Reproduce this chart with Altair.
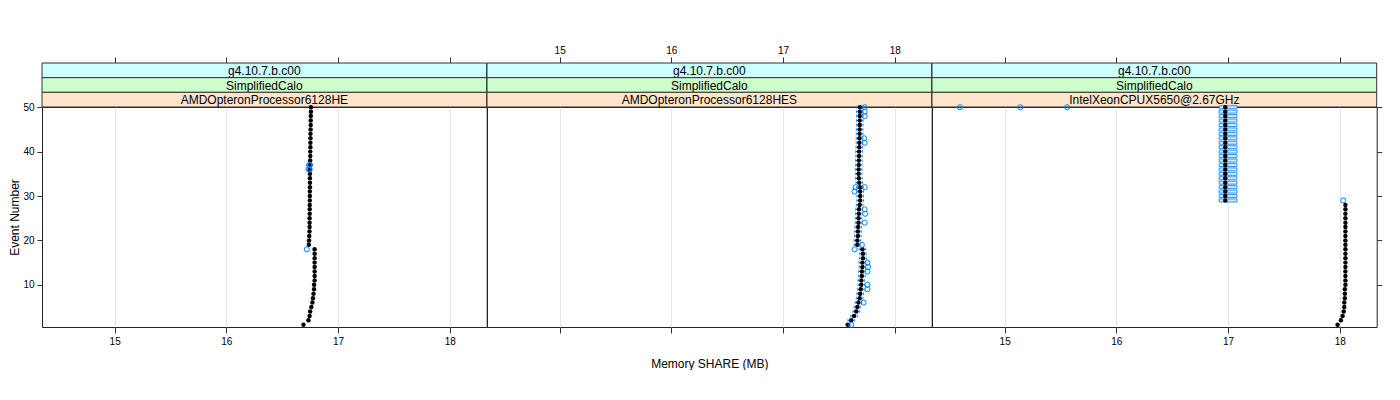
import altair as alt
import pandas as pd

# ---------------- data ----------------
RELEASE = "g4.10.7.b.c00"
APP = "SimplifiedCalo"
CPUS = ["AMDOpteronProcessor6128HE", "AMDOpteronProcessor6128HES", "IntelXeonCPUX5650@2.67GHz"]
EVENTS = list(range(1, 51))
X_TICKS = [15, 16, 17, 18]
Y_TICKS = [10, 20, 30, 40, 50]

# medians (black dots), events 1..50
p1_med = [16.69, 16.735, 16.745, 16.75, 16.76, 16.77, 16.775, 16.78, 16.785, 16.785,
          16.79, 16.79, 16.79, 16.79, 16.79, 16.79, 16.79, 16.79, 16.738, 16.74,
          16.742, 16.744, 16.745, 16.745, 16.745, 16.746, 16.746, 16.746, 16.747, 16.747,
          16.747, 16.748, 16.748, 16.748, 16.748, 16.749, 16.75, 16.75, 16.751, 16.751,
          16.752, 16.752, 16.753, 16.753, 16.754, 16.755, 16.755, 16.756, 16.757, 16.757]
p2_med = [17.58, 17.61, 17.635, 17.655, 17.665, 17.675, 17.685, 17.69, 17.695, 17.70,
          17.70, 17.705, 17.705, 17.71, 17.71, 17.715, 17.715, 17.71, 17.665, 17.665,
          17.67, 17.67, 17.672, 17.675, 17.675, 17.678, 17.68, 17.685, 17.69, 17.69,
          17.69, 17.688, 17.682, 17.678, 17.676, 17.676, 17.677, 17.678, 17.68, 17.68,
          17.682, 17.683, 17.684, 17.685, 17.685, 17.686, 17.686, 17.687, 17.687, 17.688]
p3_med = [17.98, 18.01, 18.025, 18.035, 18.04, 18.04, 18.045, 18.045, 18.045, 18.05,
          18.05, 18.05, 18.05, 18.05, 18.05, 18.05, 18.05, 18.05, 18.05, 18.05,
          18.05, 18.05, 18.05, 18.05, 18.05, 18.05, 18.05, 18.05, 16.975, 16.975,
          16.975, 16.975, 16.975, 16.975, 16.975, 16.975, 16.975, 16.975, 16.975, 16.975,
          16.975, 16.975, 16.975, 16.975, 16.975, 16.975, 16.975, 16.975, 16.975, 16.975]

# whiskers, panel 2 (events 1..50)
p2_lo = [17.56, 17.58, 17.605, 17.625, 17.635, 17.645, 17.655, 17.66, 17.665, 17.67,
         17.67, 17.675, 17.675, 17.68, 17.68, 17.685, 17.685, 17.68, 17.635, 17.635,
         17.64, 17.64, 17.642, 17.645, 17.645, 17.648, 17.65, 17.655, 17.66, 17.66,
         17.66, 17.658, 17.652, 17.648, 17.646, 17.646, 17.647, 17.648, 17.65, 17.65,
         17.652, 17.653, 17.654, 17.655, 17.655, 17.656, 17.656, 17.657, 17.657, 17.658]
p2_hi = [17.60, 17.64, 17.665, 17.685, 17.695, 17.705, 17.715, 17.72, 17.725, 17.73,
         17.73, 17.735, 17.735, 17.74, 17.74, 17.745, 17.745, 17.74, 17.695, 17.695,
         17.70, 17.70, 17.702, 17.705, 17.705, 17.708, 17.71, 17.715, 17.72, 17.72,
         17.72, 17.718, 17.712, 17.708, 17.706, 17.706, 17.707, 17.708, 17.71, 17.71,
         17.712, 17.713, 17.714, 17.715, 17.715, 17.716, 17.716, 17.717, 17.717, 17.718]

# boxes, panel 3 (events 29..50)
p3_box_events = list(range(29, 51))
p3_q1 = [16.92, 16.92, 16.92, 16.92, 16.92, 16.92, 16.92, 16.92, 16.92, 16.92, 16.92,
         16.92, 16.92, 16.92, 16.92, 16.92, 16.92, 16.92, 16.92, 16.92, 16.92, 16.92]
p3_q3 = [17.08, 17.08, 17.08, 17.08, 17.08, 17.08, 17.08, 17.08, 17.08, 17.08, 17.08,
         17.08, 17.08, 17.08, 17.08, 17.08, 17.08, 17.08, 17.08, 17.08, 17.08, 17.08]

# outliers (blue open circles)
p1_out_ev = [18, 36, 36, 37, 37]
p1_out_x = [16.72, 16.735, 16.745, 16.74, 16.75]
p2_out_ev = [50, 49, 48, 43, 42, 32, 32, 31, 27, 26, 24, 19, 18, 15, 14, 13, 10, 9, 6, 1]
p2_out_x = [17.73, 17.73, 17.73, 17.725, 17.73, 17.73, 17.65, 17.64, 17.73, 17.735,
            17.73, 17.705, 17.64, 17.755, 17.76, 17.755, 17.755, 17.755, 17.72, 17.61]
p3_out_ev = [50, 50, 50, 29]
p3_out_x = [14.6, 15.14, 15.56, 18.03]

# ---------------- styling ----------------
FONT = "Liberation Sans"
W, H = 444.7, 220
XDOM = [14.35, 18.33]
YDOM = [0.5, 50.05]
BLUE = "#0080ff"
STRIP_COLORS = ["#ccffff", "#ccffcc", "#ffe5cc"]
STRIP_H = 44 / 3.0

meds = [p1_med, p2_med, p3_med]
outs = [(p1_out_ev, p1_out_x), (p2_out_ev, p2_out_x), (p3_out_ev, p3_out_x)]


def strip_layer(level, label, color):
    top = -44 + level * STRIP_H
    bot = top + STRIP_H
    df = pd.DataFrame({"label": [label]})
    rect = alt.Chart(df).mark_rect(fill=color, stroke="#333333", strokeWidth=1).encode(
        x=alt.value(0), x2=alt.value(W), y=alt.value(top), y2=alt.value(bot))
    txt = alt.Chart(df).mark_text(font=FONT, fontSize=12, align="center",
                                  baseline="middle", color="black").encode(
        text="label:N", x=alt.value(W / 2), y=alt.value((top + bot) / 2 + 0.5))
    return [rect, txt]


def panel(i):
    xs = alt.Scale(domain=XDOM, nice=False, zero=False, padding=0)
    ys = alt.Scale(domain=YDOM, nice=False, zero=False, padding=0)

    bottom_kw = dict(orient="bottom", values=X_TICKS, grid=True, gridColor="#e6e6e6",
                     labels=(i != 1), tickSize=6, labelPadding=3, domain=False,
                     tickColor="#333333")
    if i == 1:
        bottom_kw["titlePadding"] = 25
    bottom_axis = alt.Axis(**bottom_kw)
    top_axis = alt.Axis(orient="top", values=X_TICKS, grid=False, labels=(i == 1),
                        tickSize=6, labelPadding=2, offset=44, domain=False,
                        tickColor="#333333")

    med_df = pd.DataFrame({"event": EVENTS, "share": meds[i]})
    oe, ox = outs[i]
    out_df = pd.DataFrame({"event": oe, "share": ox})

    if i == 0:
        yaxis_main = alt.Axis(orient="left", values=Y_TICKS, tickSize=5, labelPadding=3,
                              domain=False, grid=False, titlePadding=1, tickColor="#333333")
    elif i == 2:
        yaxis_main = alt.Axis(orient="right", values=Y_TICKS, tickSize=5, labels=False,
                              domain=False, grid=False, tickColor="#333333")
    else:
        yaxis_main = None

    layers = []
    for lvl, (lab, col) in enumerate(zip([RELEASE, APP, CPUS[i]], STRIP_COLORS)):
        layers += strip_layer(lvl, lab, col)

    if i == 2:
        box_df = pd.DataFrame({"event": p3_box_events, "q1": p3_q1, "q3": p3_q3})
        layers.append(alt.Chart(box_df).mark_bar(size=3, orient="horizontal", fill="#d2e8ff",
                                                  stroke=BLUE, strokeWidth=0.8).encode(
            x=alt.X("q1:Q", scale=xs, axis=None), x2="q3:Q",
            y=alt.Y("event:Q", scale=ys, axis=None)))
    if i == 1:
        wh_df = pd.DataFrame({"event": EVENTS, "lo": p2_lo, "hi": p2_hi})
        layers.append(alt.Chart(wh_df).mark_rule(color=BLUE, strokeWidth=1,
                                                 strokeDash=[2, 1]).encode(
            x=alt.X("lo:Q", scale=xs, axis=None), x2="hi:Q",
            y=alt.Y("event:Q", scale=ys, axis=None)))
        for fld in ["lo", "hi"]:
            layers.append(alt.Chart(wh_df).mark_tick(orient="vertical", size=3, thickness=1,
                                                     color=BLUE).encode(
                x=alt.X(f"{fld}:Q", scale=xs, axis=None),
                y=alt.Y("event:Q", scale=ys, axis=None)))

    ykw = dict(scale=ys)
    if yaxis_main is None:
        ykw["axis"] = None
    else:
        ykw["axis"] = yaxis_main
    ytitle = "Event Number" if i == 0 else None

    layers.append(alt.Chart(med_df).mark_circle(size=20, color="black", opacity=1).encode(
        x=alt.X("share:Q", scale=xs, axis=bottom_axis,
                title=("Memory SHARE (MB)" if i == 1 else None)),
        y=alt.Y("event:Q", title=ytitle, **ykw)))

    layers.append(alt.Chart(out_df).mark_point(shape="circle", filled=False, color=BLUE,
                                               size=26, strokeWidth=1, opacity=1).encode(
        x=alt.X("share:Q", scale=xs, axis=top_axis, title=None),
        y=alt.Y("event:Q", scale=ys, axis=None)))

    return alt.layer(*layers).resolve_axis(x="independent", y="independent").properties(
        width=W, height=H)


chart = alt.hconcat(panel(0), panel(1), panel(2), spacing=0, bounds="flush").properties(
    padding={"left": 0, "top": 36, "right": 0, "bottom": 0}
).configure_view(stroke="#222222", strokeWidth=1).configure_axis(
    labelFont=FONT, titleFont=FONT, labelFontSize=10, titleFontSize=12,
    labelColor="black", titleColor="black", titleFontWeight="normal"
)

chart.save("out.html", embed_options={"renderer": "svg", "actions": False})
